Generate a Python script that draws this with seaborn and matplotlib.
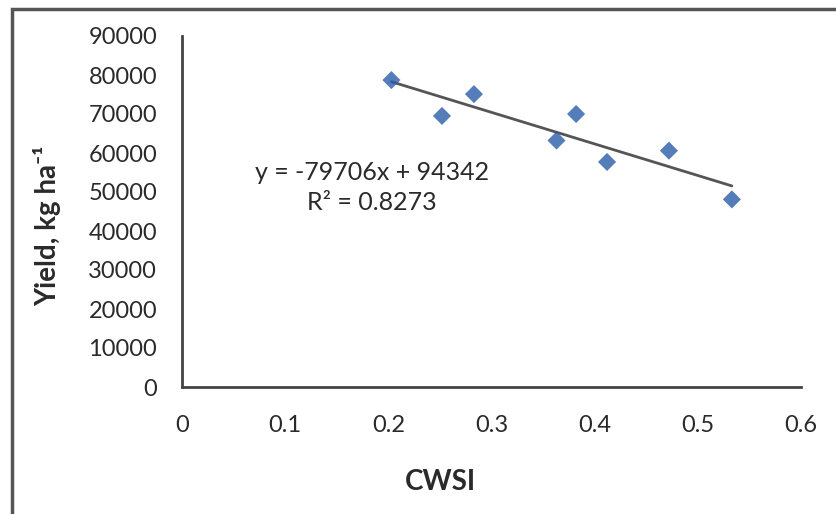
import numpy as np
import pandas as pd
import matplotlib
matplotlib.use("Agg")
import matplotlib.pyplot as plt
from matplotlib.patches import Rectangle
import seaborn as sns

# values
cwsi = [0.203, 0.252, 0.283, 0.363, 0.382, 0.412, 0.472, 0.533]
yield_kg = [78700, 69500, 75100, 63200, 70000, 57700, 60600, 48100]
x_ticks = [0, 0.1, 0.2, 0.3, 0.4, 0.5, 0.6]
y_ticks = [0, 10000, 20000, 30000, 40000, 50000, 60000, 70000, 80000, 90000]
eq_text = "y = -79706x + 94342"
r2_text = "R² = 0.8273"

df = pd.DataFrame({"CWSI": cwsi, "Yield": yield_kg})

sns.set_style("white")
plt.rcParams['font.family'] = ['Lato', 'DejaVu Sans']

fig = plt.figure(figsize=(8.36, 5.14), dpi=100)
ax = fig.add_axes([182/836, 1-387/514, 619/836, 351/514])

sns.regplot(data=df, x="CWSI", y="Yield", ax=ax, ci=None, truncate=True,
            marker="D",
            scatter_kws={"s": 85, "color": "#2b5ca8", "edgecolor": "none", "zorder": 3},
            line_kws={"color": "#555555", "lw": 2, "zorder": 2})

ax.set_xlim(0, 0.6)
ax.set_ylim(0, 90000)
ax.set_xticks(x_ticks)
ax.set_xticklabels(["0", "0.1", "0.2", "0.3", "0.4", "0.5", "0.6"])
ax.set_yticks(y_ticks)
ax.set_yticklabels([str(v) for v in y_ticks])
ax.tick_params(axis="both", direction="out", length=6, width=1.5, color="#444444",
               labelsize=17, labelcolor="#2a2a2a")
ax.tick_params(axis="y", pad=12)
ax.tick_params(axis="x", pad=14)

sns.despine(ax=ax)
for s in ["left", "bottom"]:
    ax.spines[s].set_color("#444444")
    ax.spines[s].set_linewidth(2)

ax.set_xlabel("CWSI", fontsize=20, fontweight="bold", color="#2a2a2a")
ax.set_ylabel("Yield, kg ha⁻¹", fontsize=20, fontweight="bold", color="#2a2a2a")
ax.xaxis.set_label_coords(0.417, -0.235)
ax.yaxis.set_label_coords(-0.195, 0.459)

ax.text(0.184, 55100, eq_text, ha="center", va="center", fontsize=18, color="#2a2a2a")
ax.text(0.184, 47400, r2_text, ha="center", va="center", fontsize=18, color="#2a2a2a")

# outer chart frame (only top/left edges visible in the reference)
fig.patches.append(Rectangle((12/836, -0.1), 1.2, 1.1 - 9/514, transform=fig.transFigure,
                             fill=False, edgecolor="#555555", lw=2.5, zorder=10))

fig.savefig("out.png", dpi=100)
